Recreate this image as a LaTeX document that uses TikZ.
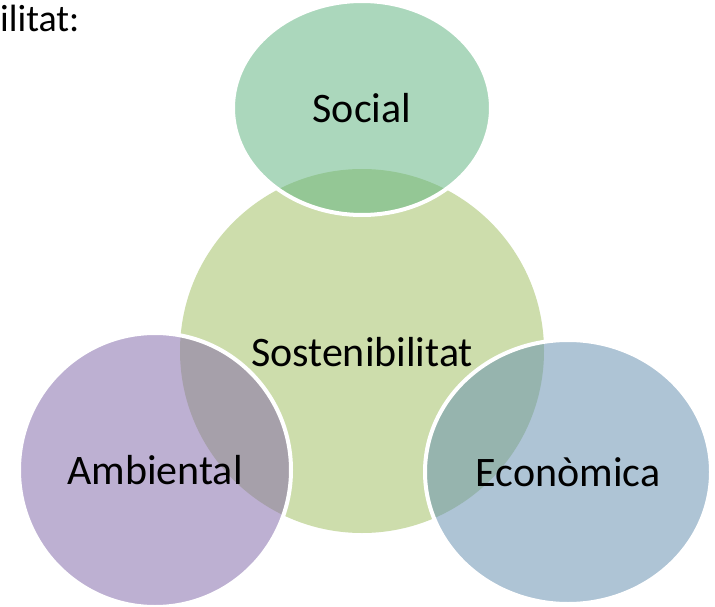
\documentclass[tikz,border=0pt]{standalone}
\usepackage{fontspec}
\setmainfont{Carlito}
\usetikzlibrary{shapes.geometric}
\definecolor{centrecol}{RGB}{205,221,172}
\definecolor{socialcol}{RGB}{98,181,130}
\definecolor{ambcol}{RGB}{132,106,170}
\definecolor{ecocol}{RGB}{102,144,176}
\tikzset{
  blob/.style={ellipse, inner sep=0pt, draw=white, line width=4pt, fill opacity=0.53},
  lbl/.style={font=\fontsize{42}{50}\selectfont, inner sep=0pt, text=black}
}
\begin{document}
\begin{tikzpicture}[x=1pt,y=-1pt]
\useasboundingbox (0,0) rectangle (715,607);
\clip (0,0) rectangle (715,607);
\fill[white] (0,0) rectangle (715,607);
\node[lbl, font=\fontsize{38}{45}\selectfont, anchor=base west] (head) at (0,32) {ilitat:};
\node[ellipse, inner sep=0pt, fill=centrecol, minimum width=364pt, minimum height=364pt] (centre) at (362,351) {};
\node[blob, fill=socialcol, minimum width=258pt, minimum height=214pt] (social) at (362,108) {};
\node[blob, fill=ambcol, minimum width=272pt, minimum height=274pt] (amb) at (155,470) {};
\node[blob, fill=ecocol, minimum width=286pt, minimum height=264pt] (eco) at (568,472) {};
\node[lbl] (tsoc) at (social.center) {Social};
\node[lbl] (tcen) at (362,352) {Sostenibilitat};
\node[lbl] (tamb) at (amb.center) {Ambiental};
\node[lbl] (teco) at (eco.center) {Econòmica};
\end{tikzpicture}
\end{document}
